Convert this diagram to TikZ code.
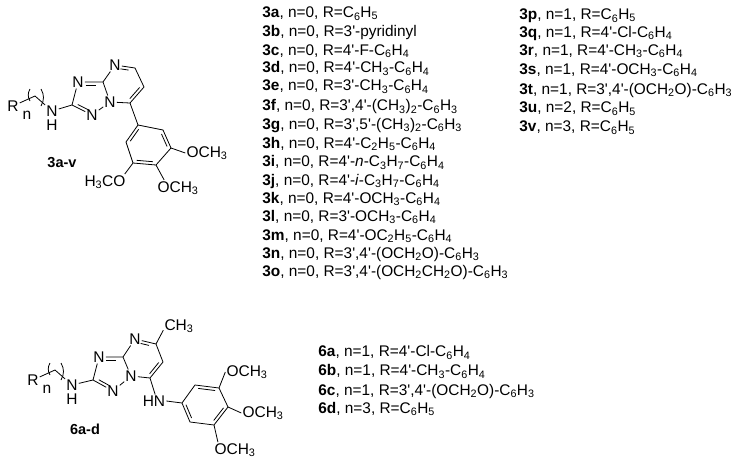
\documentclass[tikz,border=0pt]{standalone}
\usepackage{fontspec}
\newfontfamily\chemfont{Liberation Sans}
\usetikzlibrary{calc}
\newcommand{\lowi}[1]{\textsubscript{#1}}
% second line of a double bond: start, end, side, trim
\newcommand{\dbl}[4]{\draw ($(#1)!#4!(#2)!3pt!#3:(#2)$) -- ($(#2)!#4!(#1)!3pt!-#3:(#1)$);}
\tikzset{
	atom/.style={inner sep=0.8pt,font=\chemfont\fontsize{15.5}{15}\selectfont},
	tag/.style={inner sep=0pt,font=\chemfont\bfseries\fontsize{14.5}{15}\selectfont},
	item/.style={anchor=base west,inner sep=0pt,font=\chemfont\fontsize{15.4}{15}\selectfont}
}
\begin{document}
\begin{tikzpicture}[x=1pt,y=-1pt,line width=0.8pt]
	\useasboundingbox (0,0) rectangle (740,463);
	% compound 3
	\node[atom] (Ra) at (13,106) {R};
	\node[atom] (na) at (27,115) {n};
	\node[atom] (Nha) at (52,111) {N};
	\node[atom] (Hha) at (52,125) {H};
	\coordinate (pka) at (35,96);
	\coordinate (cta) at (72,105);
	\node[atom] (Nta) at (78,82) {N};
	\coordinate (cja) at (103,82);
	\node[atom] (Nba) at (110,102) {N};
	\node[atom] (Nla) at (92,115) {N};
	\node[atom] (Npa) at (115,65) {N};
	\coordinate (c5a) at (135,68);
	\coordinate (c6a) at (144,87);
	\coordinate (c7a) at (130,103);
	\coordinate (a1a) at (138,125);
	\coordinate (a2a) at (163,130);
	\coordinate (a3a) at (171,148);
	\coordinate (a4a) at (156,165);
	\coordinate (a5a) at (133,163);
	\coordinate (a6a) at (126,142);
	\node[atom] (Oma) at (207,153) {OCH\lowi{3}};
	\node[atom] (Opa) at (178,188) {OCH\lowi{3}};
	\node[atom] (Ola) at (105,182) {H\lowi{3}CO};
	\node[tag] (tga) at (62,163) {3a-v};
	\draw (Ra) -- (pka) -- (Nha);
	\draw (30,89) to[bend right=30] (30,101);
	\draw (41,89) to[bend left=30] (41,106);
	\draw (Nha) -- (cta) -- (Nta) -- (cja) -- (Nba) -- (Nla) -- (cta);
	\draw (cja) -- (Npa) -- (c5a) -- (c6a) -- (c7a) -- (Nba);
	\draw (c7a) -- (a1a) -- (a2a) -- (a3a) -- (a4a) -- (a5a) -- (a6a) -- (a1a);
	\draw (a3a) -- (Oma.west);
	\draw (a4a) -- (Opa.150);
	\draw (a5a) -- (Ola.22);
	\dbl{Nta}{cja}{-90}{.3}
	\dbl{cta}{Nla}{90}{.22}
	\dbl{Npa}{c5a}{-90}{.3}
	\dbl{c6a}{c7a}{-90}{.15}
	\dbl{a1a}{a6a}{90}{.15}
	\dbl{a2a}{a3a}{-90}{.15}
	\dbl{a4a}{a5a}{-90}{.15}
	% compound 6
	\node[atom] (Rb) at (33,380) {R};
	\node[atom] (nb) at (47,389) {n};
	\node[atom] (Nhb) at (72,385) {N};
	\node[atom] (Hhb) at (72,399) {H};
	\coordinate (pkb) at (55,370);
	\coordinate (ctb) at (93,380);
	\node[atom] (Ntb) at (99,357) {N};
	\coordinate (cjb) at (123,357);
	\node[atom] (Nbb) at (131,376) {N};
	\node[atom] (Nlb) at (113,391) {N};
	\node[atom] (Npb) at (135,339) {N};
	\coordinate (c5b) at (156,344);
	\coordinate (c6b) at (163,362);
	\coordinate (c7b) at (150,378);
	\node[atom] (Meb) at (179,326) {CH\lowi{3}};
	\node[atom] (Hnb) at (154,401) {HN};
	\coordinate (a1b) at (182,403);
	\coordinate (a2b) at (195,385);
	\coordinate (a3b) at (219,388);
	\coordinate (a4b) at (228,407);
	\coordinate (a5b) at (214,425);
	\coordinate (a6b) at (190,422);
	\node[atom] (Otb) at (247,372) {OCH\lowi{3}};
	\node[atom] (Omb) at (263,413) {OCH\lowi{3}};
	\node[atom] (Obb) at (235,450) {OCH\lowi{3}};
	\node[tag] (tgb) at (85,429) {6a-d};
	\draw (Rb) -- (pkb) -- (Nhb);
	\draw (50,363) to[bend right=30] (50,375);
	\draw (61,363) to[bend left=30] (61,380);
	\draw (Nhb) -- (ctb) -- (Ntb) -- (cjb) -- (Nbb) -- (Nlb) -- (ctb);
	\draw (cjb) -- (Npb) -- (c5b) -- (c6b) -- (c7b) -- (Nbb);
	\draw (c5b) -- (Meb.195);
	\draw (c7b) -- (Hnb.80);
	\draw (Hnb.east) -- (a1b) -- (a2b) -- (a3b) -- (a4b) -- (a5b) -- (a6b) -- (a1b);
	\draw (a3b) -- (Otb.west);
	\draw (a4b) -- (Omb.west);
	\draw (a5b) -- (Obb.155);
	\dbl{Ntb}{cjb}{-90}{.3}
	\dbl{ctb}{Nlb}{90}{.22}
	\dbl{Npb}{c5b}{-90}{.3}
	\dbl{c6b}{c7b}{-90}{.15}
	\dbl{a1b}{a6b}{90}{.15}
	\dbl{a2b}{a3b}{-90}{.15}
	\dbl{a4b}{a5b}{-90}{.15}
	% left list
	\node[item] (i3a) at (262,17.5) {\textbf{3a}, n=0, R=C\lowi{6}H\lowi{5}};
	\node[item] (i3b) at (262,36) {\textbf{3b}, n=0, R=3'-pyridinyl};
	\node[item] (i3c) at (262,55) {\textbf{3c}, n=0, R=4'-F-C\lowi{6}H\lowi{4}};
	\node[item] (i3d) at (262,72.7) {\textbf{3d}, n=0, R=4'-CH\lowi{3}-C\lowi{6}H\lowi{4}};
	\node[item] (i3e) at (262,90.7) {\textbf{3e}, n=0, R=3'-CH\lowi{3}-C\lowi{6}H\lowi{4}};
	\node[item] (i3f) at (262,110.7) {\textbf{3f}, n=0, R=3',4'-(CH\lowi{3})\lowi{2}-C\lowi{6}H\lowi{3}};
	\node[item] (i3g) at (262,129) {\textbf{3g}, n=0, R=3',5'-(CH\lowi{3})\lowi{2}-C\lowi{6}H\lowi{3}};
	\node[item] (i3h) at (262,148) {\textbf{3h}, n=0, R=4'-C\lowi{2}H\lowi{5}-C\lowi{6}H\lowi{4}};
	\node[item] (i3i) at (262,166.7) {\textbf{3i}, n=0, R=4'-\textit{n}-C\lowi{3}H\lowi{7}-C\lowi{6}H\lowi{4}};
	\node[item] (i3j) at (262,185) {\textbf{3j}, n=0, R=4'-\textit{i}-C\lowi{3}H\lowi{7}-C\lowi{6}H\lowi{4}};
	\node[item] (i3k) at (262,203) {\textbf{3k}, n=0, R=4'-OCH\lowi{3}-C\lowi{6}H\lowi{4}};
	\node[item] (i3l) at (262,221) {\textbf{3l}, n=0, R=3'-OCH\lowi{3}-C\lowi{6}H\lowi{4}};
	\node[item] (i3m) at (262,240) {\textbf{3m}, n=0, R=4'-OC\lowi{2}H\lowi{5}-C\lowi{6}H\lowi{4}};
	\node[item] (i3n) at (262,258) {\textbf{3n}, n=0, R=3',4'-(OCH\lowi{2}O)-C\lowi{6}H\lowi{3}};
	\node[item] (i3o) at (262,276) {\textbf{3o}, n=0, R=3',4'-(OCH\lowi{2}CH\lowi{2}O)-C\lowi{6}H\lowi{3}};
	% right list
	\node[item] (i3p) at (519,19.5) {\textbf{3p}, n=1, R=C\lowi{6}H\lowi{5}};
	\node[item] (i3q) at (519,37) {\textbf{3q}, n=1, R=4'-Cl-C\lowi{6}H\lowi{4}};
	\node[item] (i3r) at (519,55) {\textbf{3r}, n=1, R=4'-CH\lowi{3}-C\lowi{6}H\lowi{4}};
	\node[item] (i3s) at (519,74) {\textbf{3s}, n=1, R=4'-OCH\lowi{3}-C\lowi{6}H\lowi{4}};
	\node[item] (i3t) at (519,94) {\textbf{3t}, n=1, R=3',4'-(OCH\lowi{2}O)-C\lowi{6}H\lowi{3}};
	\node[item] (i3u) at (519,112.7) {\textbf{3u}, n=2, R=C\lowi{6}H\lowi{5}};
	\node[item] (i3v) at (519,131.7) {\textbf{3v}, n=3, R=C\lowi{6}H\lowi{5}};
	% bottom list
	\node[item] (i6a) at (318,356.7) {\textbf{6a}, n=1, R=4'-Cl-C\lowi{6}H\lowi{4}};
	\node[item] (i6b) at (318,375.7) {\textbf{6b}, n=1, R=4'-CH\lowi{3}-C\lowi{6}H\lowi{4}};
	\node[item] (i6c) at (318,395) {\textbf{6c}, n=1, R=3',4'-(OCH\lowi{2}O)-C\lowi{6}H\lowi{3}};
	\node[item] (i6d) at (318,413) {\textbf{6d}, n=3, R=C\lowi{6}H\lowi{5}};
\end{tikzpicture}
\end{document}
